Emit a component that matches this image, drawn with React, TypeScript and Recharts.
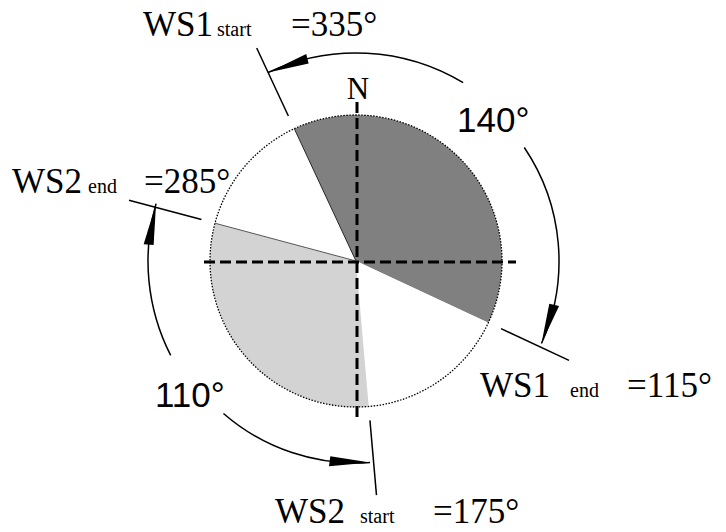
import React from 'react';
import { PieChart, Pie, Cell } from 'recharts';

// wind sectors, clockwise from WS1 start (compass degrees)
const SECTORS = ['WS1', 'gap1', 'WS2', 'gap2'];
const SECTOR_SPANS = [140, 60, 110, 50];
const FIRST_BOUNDARY = 335;

const BOUNDARY_ANGLES = [335, 115, 175, 285];
const BOUNDARY_NAMES = ['WS1', 'WS1', 'WS2', 'WS2'];
const BOUNDARY_SUBS = ['start', 'end', 'start', 'end'];
const SPAN_LABELS = ['140°', '110°'];

const COLORS = ['#808080', '#ffffff', '#d3d3d3', '#ffffff'];

const W = 726;
const H = 532;
const CX = 356;
const CY = 261;
const R = 146;

const SERIF = '"Liberation Serif", "Times New Roman", serif';
const SANS = '"Liberation Sans", Arial, sans-serif';

const pieData = SECTORS.map((name, i) => ({ name, value: SECTOR_SPANS[i] }));

const polar = (deg: number, r: number): [number, number] => {
  const a = (deg * Math.PI) / 180;
  return [CX + r * Math.sin(a), CY - r * Math.cos(a)];
};

function ArrowArc({ from, to, r }: { from: number; to: number; r: number }) {
  let diff = to - from;
  if (diff > 180) diff -= 360;
  if (diff < -180) diff += 360;
  const sgn = diff > 0 ? 1 : -1;
  const [x0, y0] = polar(from, r);
  const [x1, y1] = polar(to, r);
  const base = to - sgn * 11.5;
  const [bx1, by1] = polar(base, r - 5);
  const [bx2, by2] = polar(base, r + 5);
  return (
    <g>
      <path
        d={`M${x0},${y0} A${r},${r} 0 0 ${sgn > 0 ? 1 : 0} ${x1},${y1}`}
        fill="none"
        stroke="#000"
        strokeWidth={1.5}
      />
      <polygon points={`${x1},${y1} ${bx1},${by1} ${bx2},${by2}`} fill="#000" />
    </g>
  );
}

function Label({ x, y, name, sub, subX, eqX, angle }: any) {
  return (
    <g fontFamily={SERIF} fill="#000">
      <text x={x} y={y} fontSize={35}>{name}</text>
      <text x={subX} y={y} fontSize={20}>{sub}</text>
      <text x={eqX} y={y} fontSize={35}>{`=${angle}°`}</text>
    </g>
  );
}

// annotations drawn on top of the pie
function Overlay() {
  const layout = [
    { x: 143, y: 36, subX: 217, eqX: 291 },
    { x: 480, y: 397, subX: 570, eqX: 627 },
    { x: 275, y: 523, subX: 360, eqX: 433 },
    { x: 12, y: 193, subX: 88, eqX: 144 },
  ];
  const arcs = [
    { from: 31, to: BOUNDARY_ANGLES[0], r: 208 },
    { from: 56, to: BOUNDARY_ANGLES[1] - 1, r: 203 },
    { from: 221, to: BOUNDARY_ANGLES[2] + 1, r: 202 },
    { from: 243, to: BOUNDARY_ANGLES[3] + 1, r: 208 },
  ];
  const [lx0, ly0] = polar(335, 0);
  const [lx1, ly1] = polar(335, R);
  const [mx1, my1] = polar(285, R);
  return (
    <svg
      width={W}
      height={H}
      style={{ position: 'absolute', left: 0, top: 0, pointerEvents: 'none' }}
    >
      <circle cx={CX} cy={CY} r={R} fill="none" stroke="#000" strokeWidth={1.3} strokeDasharray="1.5 1.5" />
      <line x1={lx0} y1={ly0} x2={lx1} y2={ly1} stroke="#222" strokeWidth={1} />
      <line x1={lx0} y1={ly0} x2={mx1} y2={my1} stroke="#555" strokeWidth={1} />
      {/* dashed axes */}
      <line x1={CX - 152} y1={CY + 1} x2={CX + 160} y2={CY + 1} stroke="#000" strokeWidth={3} strokeDasharray="11 5" />
      <line x1={CX + 1} y1={CY - 159} x2={CX + 1} y2={CY + 156} stroke="#000" strokeWidth={3} strokeDasharray="11 5" />
      <text x={CX + 2} y={99} fontFamily={SERIF} fontSize={31} textAnchor="middle">N</text>
      {BOUNDARY_ANGLES.map((a, i) => {
        const [x0, y0] = polar(a, 160);
        const [x1, y1] = polar(a, 235);
        return <line key={`tick-${i}`} x1={x0} y1={y0} x2={x1} y2={y1} stroke="#000" strokeWidth={1.5} />;
      })}
      {arcs.map((arc, i) => (
        <ArrowArc key={`arc-${i}`} {...arc} />
      ))}
      {BOUNDARY_ANGLES.map((a, i) => (
        <Label key={`lbl-${i}`} {...layout[i]} name={BOUNDARY_NAMES[i]} sub={BOUNDARY_SUBS[i]} angle={a} />
      ))}
      <text x={457} y={132} fontFamily={SANS} fontSize={35}>{SPAN_LABELS[0]}</text>
      <text x={155} y={407} fontFamily={SANS} fontSize={35}>{SPAN_LABELS[1]}</text>
    </svg>
  );
}

export default function App() {
  const start = 90 - FIRST_BOUNDARY + 360;
  return (
    <div style={{ position: 'absolute', left: 0, top: 0, width: W, height: H, background: '#fff' }}>
      <PieChart width={W} height={H} margin={{ top: 0, right: 0, bottom: 0, left: 0 }}>
        <Pie
          data={pieData}
          dataKey="value"
          cx={CX}
          cy={CY}
          outerRadius={R}
          startAngle={start}
          endAngle={start - 360}
          stroke="none"
          isAnimationActive={false}
        >
          {pieData.map((entry, index) => (
            <Cell key={`cell-${index}`} fill={COLORS[index]} />
          ))}
        </Pie>
      </PieChart>
      <Overlay />
    </div>
  );
}
